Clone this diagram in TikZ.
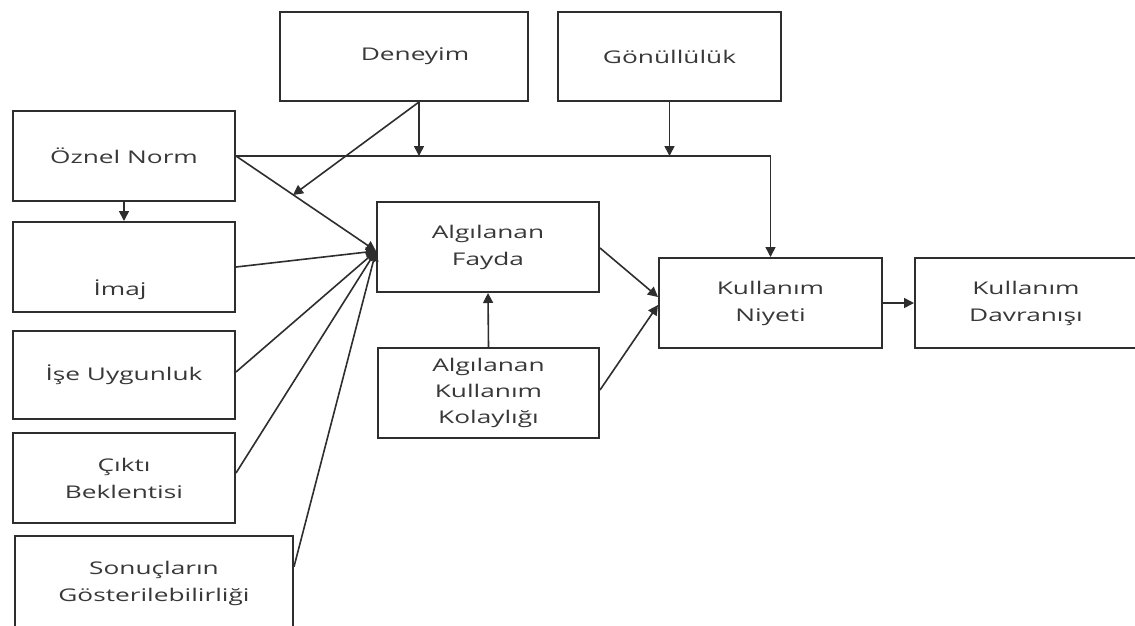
\documentclass[tikz,border=0pt]{standalone}
\usepackage{fontspec}
\setmainfont{Open Sans}[FakeStretch=1.5]
\usetikzlibrary{arrows.meta,calc}
\definecolor{linec}{HTML}{2E2E2E}
\definecolor{textc}{HTML}{383838}
\begin{document}
\begin{tikzpicture}[x=1pt,y=1pt,
  box/.style={draw=linec,line width=2pt,inner sep=0pt,align=center,text=textc,
    font=\fontsize{17.5}{27}\selectfont},
  lbl/.style={inner sep=0pt,align=center,text=textc,font=\fontsize{17.5}{27}\selectfont},
  arr/.style={draw=linec,line width=1.6pt,-{Triangle[length=10pt,width=10pt]}}]
\useasboundingbox (0,0) rectangle (1135,-625);
\fill[white] (0,0) rectangle (1135,-625);

% left column of determinants
\node[box,minimum width=222pt,minimum height=90pt] (oz) at (124,-156) {Öznel Norm};
\node[box,minimum width=222pt,minimum height=90pt] (im) at (124,-267) {};
\node[lbl] (imt) at (120,-290) {İmaj};
\node[box,minimum width=222pt,minimum height=88pt] (ise) at (124,-375) {İşe Uygunluk};
\node[box,minimum width=222pt,minimum height=90pt] (cb) at (124,-478) {Çıktı\\Beklentisi};
\node[box,minimum width=278pt,minimum height=94pt] (sg) at (154,-583) {Sonuçların\\Gösterilebilirliği};

% moderators
\node[box,minimum width=248pt,minimum height=89pt] (den) at (404,-56.5) {\hspace*{22pt}Deneyim};
\node[box,minimum width=223pt,minimum height=89pt] (gon) at (669.5,-56.5) {Gönüllülük};

% core constructs
\node[box,minimum width=222pt,minimum height=90pt] (af) at (488,-247) {Algılanan\\Fayda};
\node[box,minimum width=221pt,minimum height=90pt,font=\fontsize{17.5}{26}\selectfont] (akk) at (488.5,-393) {Algılanan\\Kullanım\\Kolaylığı};
\node[box,minimum width=223pt,minimum height=90pt] (kn) at (770.5,-303) {Kullanım\\Niyeti};
\node[box,minimum width=222pt,minimum height=90pt] (kd) at (1026,-303) {Kullanım\\Davranışı};

% connectors
\draw[arr] (oz.south) -- (im.north);
\draw[arr] (oz.east) -| (kn.north);
\coordinate (dp) at ($(den.south west)!0.56!(den.south east)$);
\draw[arr] (dp) -- (dp |- oz.east);
\coordinate (dt) at (293,-195);
\draw[arr] (dp) -- (dt);
\draw[arr] (gon.south) -- (gon.south |- oz.east);

\coordinate (conv) at (376,-251);
\draw[arr] (oz.east) -- (conv);
\draw[arr] (im.east) -- (conv);
\draw[arr] ($(ise.east)+(0,3)$) -- (conv);
\draw[arr] ($(cb.east)+(0,5)$) -- (conv);
\draw[arr] ($(sg.north east)!0.33!(sg.south east)$) -- (conv);

\draw[arr] (akk.north) -- (af.south);
\draw[arr] ($(af.east)+(0,-1)$) -- ($(kn.west)+(0,6)$);
\draw[arr] ($(akk.east)+(0,3)$) -- ($(kn.west)+(0,-2)$);
\draw[arr] (kn.east) -- (kd.west);
\end{tikzpicture}
\end{document}
